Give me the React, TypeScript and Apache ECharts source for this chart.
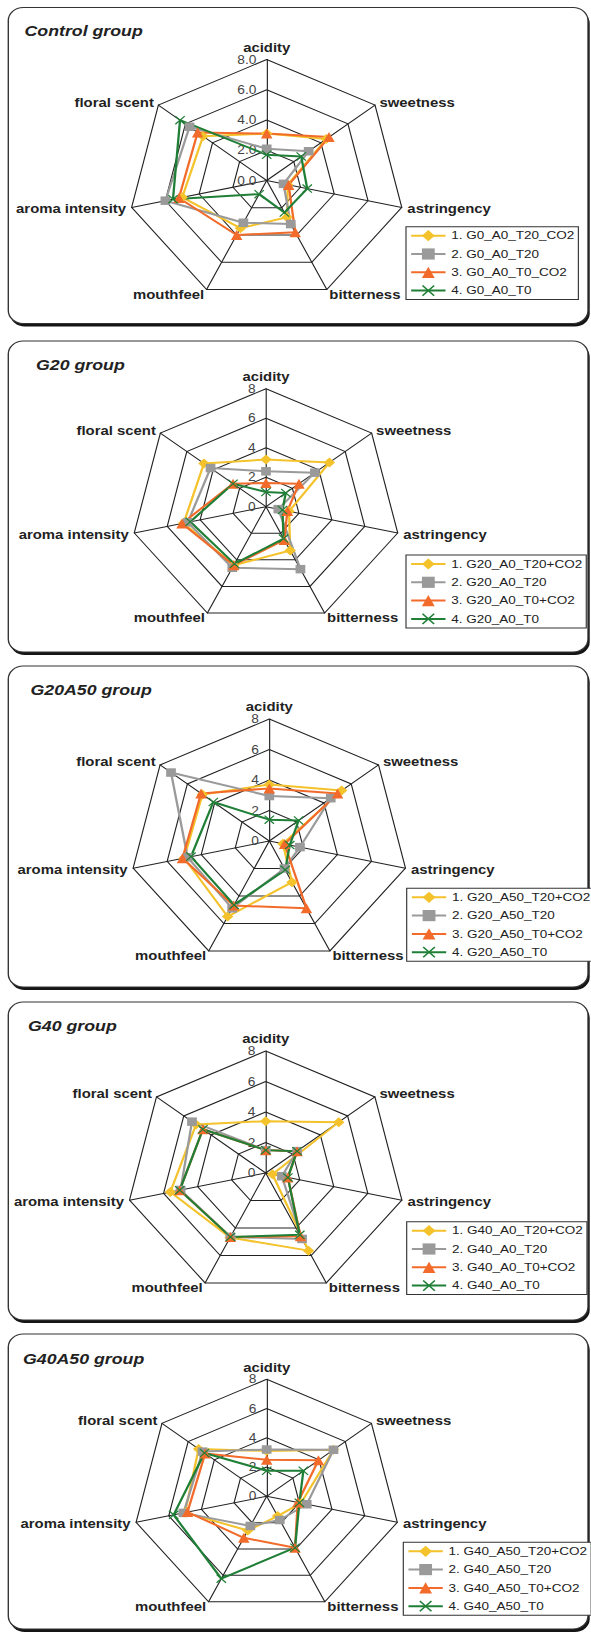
import React, { useEffect, useRef } from 'react';
import * as echarts from 'echarts';

// ---------------- data ----------------
// clockwise from top
const INDICATORS = ['acidity', 'sweetness', 'astringency', 'bitterness', 'mouthfeel', 'aroma intensity', 'floral scent'];
const AXIS_MAX = 8;
const AXIS_SPLITS = 4;

const TITLES = ['Control group', 'G20 group', 'G20A50 group', 'G40 group', 'G40A50 group'];

const LEGEND_CONTROL = ['1. G0_A0_T20_CO2', '2. G0_A0_T20', '3. G0_A0_T0_CO2', '4. G0_A0_T0'];
const LEGEND_G20 = ['1. G20_A0_T20+CO2', '2. G20_A0_T20', '3. G20_A0_T0+CO2', '4. G20_A0_T0'];
const LEGEND_G20A50 = ['1. G20_A50_T20+CO2', '2. G20_A50_T20', '3. G20_A50_T0+CO2', '4. G20_A50_T0'];
const LEGEND_G40 = ['1. G40_A0_T20+CO2', '2. G40_A0_T20', '3. G40_A0_T0+CO2', '4. G40_A0_T0'];
const LEGEND_G40A50 = ['1. G40_A50_T20+CO2', '2. G40_A50_T20', '3. G40_A50_T0+CO2', '4. G40_A50_T0'];

const CONTROL_T20_CO2 = [3.1, 4.4, 1.25, 2.7, 3.5, 5.0, 4.7];
const CONTROL_T20 = [2.1, 3.1, 1.0, 3.2, 3.1, 6.0, 5.7];
const CONTROL_T0_CO2 = [3.1, 4.6, 1.3, 3.8, 4.0, 5.2, 5.1];
const CONTROL_T0 = [1.7, 2.55, 2.4, 2.35, 1.0, 5.55, 6.4];

const G20_T20_CO2 = [3.2, 4.8, 1.4, 3.3, 4.4, 5.0, 4.7];
const G20_T20 = [2.4, 3.7, 0.75, 4.7, 4.6, 4.75, 4.2];
const G20_T0_CO2 = [1.6, 2.5, 1.3, 2.5, 4.4, 5.1, 2.5];
const G20_T0 = [1.0, 1.5, 1.0, 2.4, 4.3, 4.6, 2.5];

const G20A50_T20_CO2 = [3.7, 5.3, 0.8, 3.0, 5.5, 5.0, 4.9];
const G20A50_T20 = [2.95, 4.5, 1.8, 2.0, 4.9, 4.8, 7.2];
const G20A50_T0_CO2 = [3.45, 5.0, 0.9, 4.9, 4.7, 5.1, 5.0];
const G20A50_T0 = [1.4, 2.15, 1.2, 2.1, 4.65, 4.6, 4.1];

const G40_T20_CO2 = [3.4, 5.35, 0.4, 5.65, 4.7, 5.6, 5.1];
const G40_T20 = [1.5, 2.3, 0.95, 4.8, 4.65, 5.0, 5.4];
const G40_T0_CO2 = [1.5, 2.3, 1.3, 4.6, 4.65, 5.05, 4.6];
const G40_T0 = [1.5, 2.3, 1.3, 4.5, 4.65, 5.05, 4.6];

const G40A50_T20_CO2 = [3.1, 5.1, 2.1, 1.5, 2.6, 5.0, 5.2];
const G40A50_T20 = [3.2, 5.1, 2.45, 1.8, 2.25, 5.1, 4.9];
const G40A50_T0_CO2 = [2.5, 3.95, 1.9, 3.9, 3.15, 4.85, 4.7];
const G40A50_T0 = [1.75, 2.8, 2.0, 3.9, 6.25, 5.7, 4.75];

const PANEL_DATA = [
  [CONTROL_T20_CO2, CONTROL_T20, CONTROL_T0_CO2, CONTROL_T0],
  [G20_T20_CO2, G20_T20, G20_T0_CO2, G20_T0],
  [G20A50_T20_CO2, G20A50_T20, G20A50_T0_CO2, G20A50_T0],
  [G40_T20_CO2, G40_T20, G40_T0_CO2, G40_T0],
  [G40A50_T20_CO2, G40A50_T20, G40A50_T0_CO2, G40A50_T0],
];
const PANEL_LEGENDS = [LEGEND_CONTROL, LEGEND_G20, LEGEND_G20A50, LEGEND_G40, LEGEND_G40A50];

// ---------------- layout / style ----------------
const S = 1.145; // horizontal stretch of the original figure
const PAGE_W = 591;
const PAGE_H = 1637;
const W_PRE = PAGE_W / S;
const FONT = '"Liberation Sans", Arial, Helvetica, sans-serif';

const COLORS = ['#F4C22B', '#9A9A9A', '#F26B2A', '#1F7F36'];
const X_PATH = 'path://M0,0.9L0.9,0L10,9.1L9.1,10Z M9.1,0L10,0.9L0.9,10L0,9.1Z';
const SYMBOLS = ['diamond', 'rect', 'triangle', X_PATH];
const SYMBOL_SIZES = [10, 8.5, 10, 9];

// full-page pixel geometry per panel
const CENTER_X = [266.7, 266, 269.3, 265.7, 266.7];
const CENTER_Y = [180.5, 506.7, 841, 1173, 1496.3];
const RADIUS = [121, 118, 122, 122, 117];
const BOX_TOP = [7.5, 341, 666, 1002, 1334];
const BOX_BOTTOM = [323.5, 652, 987, 1320, 1629];
const BOX_LEFT = 8.3;
const BOX_RIGHT = 588;
const TITLE_X = [24.5, 36, 30.5, 28, 23];
const TITLE_Y = [31.2, 364.5, 689.5, 1026.2, 1358.5];
const LEGEND_X = [406, 406, 406.7, 406.7, 403.3];
const LEGEND_Y = [226.7, 555, 888.3, 1221.7, 1542.3];
const TICK_DECIMALS = [1, 0, 0, 0, 0];

// ECharts radar places indicators counter-clockwise: reorder
const ORDER = [0, 6, 5, 4, 3, 2, 1];

function buildOption() {
  const radar = TITLES.map((_, i) => ({
    center: [CENTER_X[i] / S, CENTER_Y[i]],
    radius: RADIUS[i],
    startAngle: 90,
    shape: 'polygon',
    splitNumber: AXIS_SPLITS,
    axisNameGap: 5,
    axisName: { color: '#222', fontSize: 13, fontWeight: 'bold', fontFamily: FONT },
    axisLine: { lineStyle: { color: '#222', width: 1 } },
    splitLine: { lineStyle: { color: '#222', width: 1 } },
    splitArea: { show: false },
    axisTick: { show: false },
    axisLabel: { show: false },
    indicator: ORDER.map((k, j) => {
      const ind: any = { name: INDICATORS[k], min: 0, max: AXIS_MAX };
      if (j === 0) {
        ind.axisLabel = {
          show: true,
          fontSize: 12,
          color: '#444',
          fontFamily: FONT,
          margin: 9,
          formatter: (v: number) => Number(v).toFixed(TICK_DECIMALS[i]),
        };
      }
      return ind;
    }),
  }));

  const radarSeries = TITLES.map((title, i) => ({
    type: 'radar',
    radarIndex: i,
    name: title,
    silent: true,
    data: PANEL_DATA[i].map((vals, k) => ({
      name: PANEL_LEGENDS[i][k],
      value: ORDER.map((o) => vals[o]),
      symbol: SYMBOLS[k],
      symbolSize: SYMBOL_SIZES[k],
      lineStyle: { color: COLORS[k], width: 2 },
      itemStyle: { color: COLORS[k] },
    })),
  }));

  // invisible line series: give the legends a line + marker icon
  const legendSeries: any[] = [];
  PANEL_LEGENDS.forEach((names) => {
    names.forEach((n, k) => {
      legendSeries.push({
        type: 'line',
        name: n,
        xAxisIndex: 0,
        yAxisIndex: 0,
        data: ['-'],
        symbol: SYMBOLS[k],
        symbolSize: SYMBOL_SIZES[k],
        color: COLORS[k],
        lineStyle: { color: COLORS[k], width: 2 },
        itemStyle: { color: COLORS[k] },
        silent: true,
      });
    });
  });

  const legend = TITLES.map((_, i) => ({
    orient: 'vertical',
    left: LEGEND_X[i] / S,
    top: LEGEND_Y[i],
    itemWidth: 30,
    itemHeight: 14,
    itemGap: 6.3,
    padding: [3, 3.5, 3, 3.5],
    borderColor: '#333',
    borderWidth: 1,
    backgroundColor: '#fff',
    selectedMode: false,
    textStyle: { fontSize: 11.8, color: '#222', fontFamily: FONT },
    data: PANEL_LEGENDS[i],
  }));

  const elements: any[] = [];
  TITLES.forEach((title, i) => {
    const x = BOX_LEFT / S;
    const w = (BOX_RIGHT - BOX_LEFT) / S;
    const h = BOX_BOTTOM[i] - BOX_TOP[i];
    elements.push({
      type: 'rect',
      z: -2,
      shape: { x: x + 1.5, y: BOX_TOP[i] + 3, width: w, height: h, r: 13 },
      style: { fill: '#151515' },
    });
    elements.push({
      type: 'rect',
      z: -1,
      shape: { x, y: BOX_TOP[i], width: w, height: h, r: 13 },
      style: { fill: '#ffffff', stroke: '#333', lineWidth: 1.2 },
    });
    elements.push({
      type: 'text',
      z: 10,
      x: TITLE_X[i] / S,
      y: TITLE_Y[i],
      style: {
        text: title,
        fontSize: 15.5,
        fontWeight: 'bold',
        fontStyle: 'italic',
        fontFamily: FONT,
        fill: '#222',
        verticalAlign: 'middle',
        align: 'left',
      },
    });
  });

  return {
    animation: false,
    backgroundColor: '#fff',
    grid: { left: 0, top: 0, width: 10, height: 10, show: false },
    xAxis: { type: 'category', show: false, data: ['a'] },
    yAxis: { type: 'value', show: false },
    radar,
    legend,
    graphic: { elements },
    series: [...radarSeries, ...legendSeries],
  };
}

export default function App() {
  const ref = useRef<HTMLDivElement>(null);
  useEffect(() => {
    if (!ref.current) return;
    const chart = echarts.init(ref.current, null, { renderer: 'svg' });
    chart.setOption(buildOption() as any);
    return () => chart.dispose();
  }, []);
  return (
    <div
      ref={ref}
      style={{
        position: 'absolute',
        left: 0,
        top: 0,
        width: W_PRE,
        height: PAGE_H,
        transform: `scaleX(${S})`,
        transformOrigin: '0 0',
      }}
    />
  );
}
